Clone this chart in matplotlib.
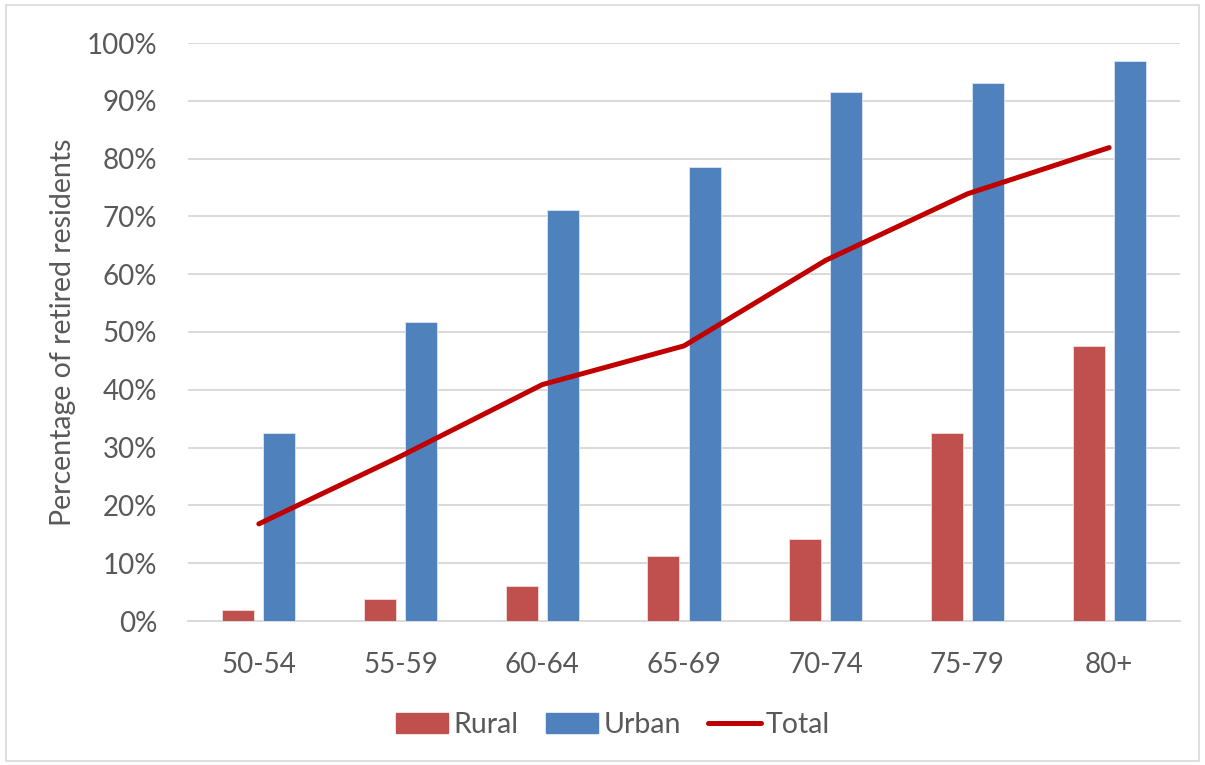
import matplotlib
matplotlib.use("Agg")
import matplotlib.pyplot as plt
import numpy as np
from matplotlib.patches import Rectangle
from matplotlib.lines import Line2D
from matplotlib.ticker import FuncFormatter, MultipleLocator

age_groups = ["50-54", "55-59", "60-64", "65-69", "70-74", "75-79", "80+"]
rural = [1.9, 3.8, 6.0, 11.3, 14.2, 32.5, 47.6]
urban = [32.6, 51.7, 71.1, 78.5, 91.6, 93.1, 96.9]
total = [16.8, 28.5, 40.9, 47.6, 62.4, 73.9, 81.9]

RURAL_C = "#C0504D"
URBAN_C = "#4F81BD"
TOTAL_C = "#C00000"
TEXT_C = "#595959"
GRID_C = "#D9D9D9"
FONT = ["Lato", "DejaVu Sans"]

plt.rcParams["font.family"] = FONT

fig = plt.figure(figsize=(12.05, 7.65), dpi=100)
ax = fig.add_axes([188 / 1205, 1 - 621 / 765, (1180 - 188) / 1205, (621 - 43) / 765])

x = np.arange(len(age_groups))
w = 0.226
off = 0.145
ax.bar(x - off, np.array(rural) / 100, w, color=RURAL_C, edgecolor="#F2DCDB", linewidth=0.6, zorder=3)
ax.bar(x + off, np.array(urban) / 100, w, color=URBAN_C, edgecolor="#DCE6F2", linewidth=0.6, zorder=3)
ax.plot(x, np.array(total) / 100, color=TOTAL_C, linewidth=3.6, solid_capstyle="round", zorder=4)

ax.set_xlim(-0.5, len(age_groups) - 0.5)
ax.set_ylim(0, 1)
ax.yaxis.set_major_locator(MultipleLocator(0.1))
ax.yaxis.set_major_formatter(FuncFormatter(lambda v, p: f"{v * 100:.0f}%"))
ax.set_xticks(x)
ax.set_xticklabels(age_groups)
ax.grid(axis="y", color=GRID_C, linewidth=1.4, zorder=0)
ax.set_axisbelow(True)
for s in ["top", "right", "left"]:
    ax.spines[s].set_visible(False)
ax.spines["bottom"].set_color(GRID_C)
ax.spines["bottom"].set_linewidth(1.4)
ax.tick_params(axis="both", length=0, colors=TEXT_C, labelsize=20)
ax.tick_params(axis="y", pad=22)
ax.tick_params(axis="x", pad=22)
ax.set_ylabel("Percentage of retired residents", fontsize=20.5, color=TEXT_C)
ax.yaxis.set_label_coords(-112 / 992, 0.5)

handles = [
    Rectangle((0, 0), 1, 1, color=RURAL_C),
    Rectangle((0, 0), 1, 1, color=URBAN_C),
    Line2D([0], [0], color=TOTAL_C, linewidth=3.6, solid_capstyle="round"),
]
leg = fig.legend(handles, ["Rural", "Urban", "Total"], loc="center", bbox_to_anchor=(613 / 1205, 1 - 725 / 765),
                 ncol=3, frameon=False, fontsize=20.5, handlelength=1.85, handleheight=0.65,
                 handletextpad=0.18, columnspacing=0.95)
for t in leg.get_texts():
    t.set_color(TEXT_C)

fig.patches.append(Rectangle((6 / 1205, 4 / 765), 1193 / 1205, 756 / 765, transform=fig.transFigure,
                             fill=False, edgecolor=GRID_C, linewidth=1.2))

fig.savefig("out.png", dpi=100)
